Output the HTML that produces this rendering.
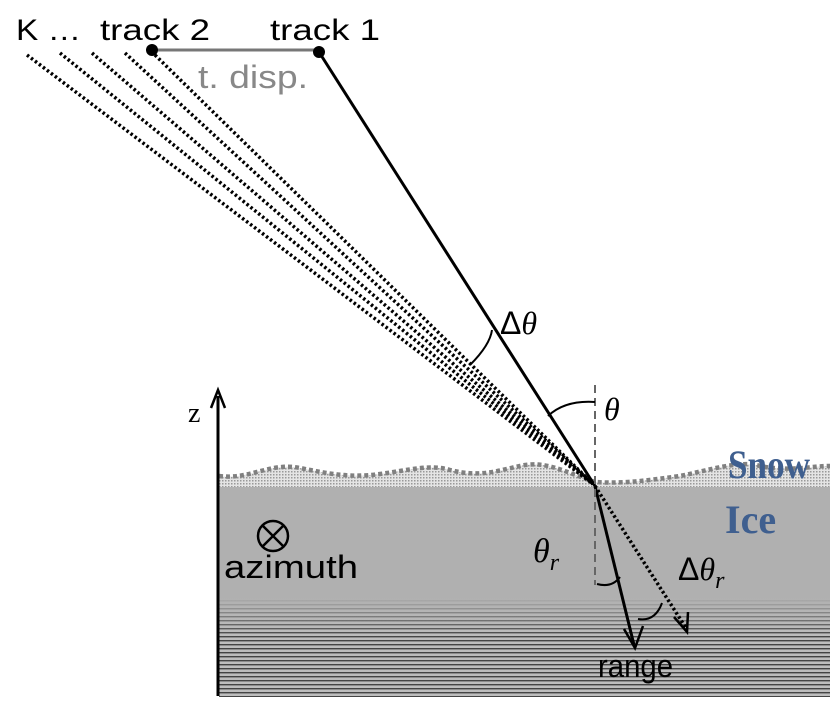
<!DOCTYPE html>
<html><head><style>
body{margin:0;background:#fff}
</style></head><body>
<svg width="830" height="706" viewBox="0 0 830 706" xmlns="http://www.w3.org/2000/svg" font-family="Liberation Sans, sans-serif">
<defs>
<pattern id="dots" width="3" height="3" patternUnits="userSpaceOnUse"><rect width="3" height="3" fill="#e4e4e4"/><rect width="1.5" height="1.5" fill="#999"/></pattern>
<pattern id="stripes" width="4" height="4" patternUnits="userSpaceOnUse"><rect width="4" height="4" fill="#bdbdbd"/><rect y="0" width="4" height="1.4" fill="#444"/></pattern>
<linearGradient id="fade" x1="0" y1="0" x2="0" y2="1"><stop offset="0" stop-color="#b0b0b0" stop-opacity="1"/><stop offset="1" stop-color="#b0b0b0" stop-opacity="0"/></linearGradient>
</defs>
<path d="M219,476 C250,480 270,462 300,468 C330,474 350,478 380,474 C410,470 430,464 450,470 C480,478 500,470 520,466 C545,460 565,472 595,482 C625,484 650,480 680,476 C710,470 740,460 760,466 C790,472 810,466 830,466 L830,487 L219,487 Z" fill="url(#dots)"/>
<path d="M219,476 C250,480 270,462 300,468 C330,474 350,478 380,474 C410,470 430,464 450,470 C480,478 500,470 520,466 C545,460 565,472 595,482 C625,484 650,480 680,476 C710,470 740,460 760,466 C790,472 810,466 830,466" fill="none" stroke="#808080" stroke-width="4.5" stroke-dasharray="4,3"/>
<rect x="219" y="487" width="611" height="210" fill="url(#stripes)"/>
<rect x="219" y="487" width="611" height="110" fill="#b0b0b0"/>
<rect x="219" y="597" width="611" height="40" fill="url(#fade)"/>
<line x1="218" y1="696" x2="218" y2="396" stroke="#000" stroke-width="3"/>
<path d="M211,408 L218,390 L225,408" fill="none" stroke="#000" stroke-width="2.5"/>
<text x="188" y="422" font-size="28" style="font-family:'Liberation Serif',serif">z</text>
<line x1="152" y1="50" x2="319" y2="50" stroke="#777" stroke-width="3"/>
<circle cx="152" cy="50" r="6"/><circle cx="319" cy="52" r="6"/>
<text x="16" y="40" font-size="30" textLength="65" lengthAdjust="spacingAndGlyphs">K  …</text>
<text x="100" y="40" font-size="30" textLength="110" lengthAdjust="spacingAndGlyphs">track 2</text>
<text x="270" y="40" font-size="30" textLength="110" lengthAdjust="spacingAndGlyphs">track 1</text>
<text x="198" y="88" font-size="32" fill="#888" textLength="110" lengthAdjust="spacingAndGlyphs">t. disp.</text>
<g stroke="#000" stroke-width="3.5" stroke-dasharray="2.5,2.5" fill="none">
<line x1="27" y1="55" x2="593" y2="484"/>
<line x1="60" y1="53" x2="593" y2="484"/>
<line x1="92" y1="53" x2="593" y2="484"/>
<line x1="125" y1="53" x2="593" y2="484"/>
<line x1="155" y1="55" x2="593" y2="484"/>
<line x1="595" y1="486" x2="686" y2="628"/>
</g>
<line x1="319" y1="52" x2="595" y2="486" stroke="#000" stroke-width="3"/>
<line x1="595" y1="486" x2="634" y2="645" stroke="#000" stroke-width="3"/>
<path d="M624,629 L635,648 L643,626" fill="none" stroke="#000" stroke-width="2.5"/>
<path d="M674,617 L687,632 L688,612" fill="none" stroke="#000" stroke-width="2.5"/>
<line x1="595" y1="385" x2="595" y2="585" stroke="#666" stroke-width="2" stroke-dasharray="8,5"/>
<g fill="none" stroke="#000" stroke-width="2">
<path d="M470,365 Q490,345 492,330"/>
<path d="M548,416 Q565,400 595,402"/>
<path d="M597,584 Q612,588 620,577"/>
<path d="M638,619 Q655,622 662,603"/>
</g>
<text x="500" y="334" font-size="32">Δ<tspan style="font-family:'Liberation Serif',serif;font-style:italic">θ</tspan></text>
<text x="604" y="420" font-size="32" style="font-family:'Liberation Serif',serif;font-style:italic">θ</text>
<text x="533" y="562" font-size="34" style="font-family:'Liberation Serif',serif;font-style:italic">θ<tspan font-size="24" dy="8">r</tspan></text>
<text x="678" y="580" font-size="32">Δ<tspan style="font-family:'Liberation Serif',serif;font-style:italic">θ<tspan font-size="24" dy="8">r</tspan></tspan></text>
<text x="728" y="478" font-size="40" font-weight="bold" fill="#3f5f8f" style="font-family:'Liberation Serif',serif" textLength="82" lengthAdjust="spacingAndGlyphs">Snow</text>
<text x="725" y="533" font-size="40" font-weight="bold" fill="#3f5f8f" style="font-family:'Liberation Serif',serif">Ice</text>
<circle cx="273" cy="536" r="15" fill="none" stroke="#000" stroke-width="2.5"/>
<path d="M262,525 L284,547 M284,525 L262,547" stroke="#000" stroke-width="2.5"/>
<text x="224" y="578" font-size="32" textLength="134" lengthAdjust="spacingAndGlyphs">azimuth</text>
<text x="598" y="677" font-size="32" textLength="75" lengthAdjust="spacingAndGlyphs">range</text>
</svg>
</body></html>
